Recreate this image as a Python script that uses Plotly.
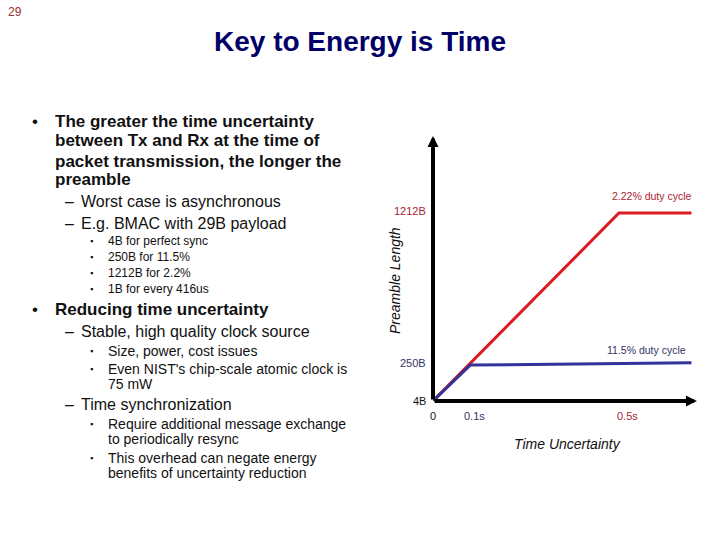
import plotly.graph_objects as go

# ---- data ----
red_time = [0.0, 0.5, 0.695]
red_preamble = [4, 1212, 1212]          # 2.22% duty cycle
blue_time = [0.0, 0.1, 0.695]
blue_preamble = [4, 235, 250]           # 11.5% duty cycle
ytick_vals = [4, 250, 1212]
ytick_text = ["4B", "250B", "1212B"]
ytick_colors = ["#111111", "#333366", "#aa2233"]
xtick_vals = [0, 0.1, 0.5]
xtick_text = ["0", "0.1s", "0.5s"]
xtick_colors = ["#111111", "#333366", "#aa2233"]
xtick_shift = [0, 4, 9]

W, H = 720, 540
FONT = "Liberation Sans"

fig = go.Figure()
fig.add_trace(go.Scatter(x=red_time, y=red_preamble,
                         mode="lines", line=dict(color="#dd1a22", width=3),
                         cliponaxis=False, hoverinfo="skip"))
fig.add_trace(go.Scatter(x=blue_time, y=blue_preamble, mode="lines",
                         line=dict(color="#333399", width=3),
                         cliponaxis=False, hoverinfo="skip"))

ann = []
# axes with arrows
ann.append(dict(x=0.7097, y=4, ax=0, ay=4, xref="x", yref="y", axref="x", ayref="y",
                showarrow=True, arrowhead=2, arrowwidth=4, arrowsize=0.55,
                arrowcolor="#000000", text=""))
ann.append(dict(x=0, y=1707, ax=0, ay=4, xref="x", yref="y", axref="x", ayref="y",
                showarrow=True, arrowhead=2, arrowwidth=4, arrowsize=0.55,
                arrowcolor="#000000", text=""))
for v, t, c in zip(ytick_vals, ytick_text, ytick_colors):
    ann.append(dict(x=0, y=v, xref="x", yref="y", text=t, showarrow=False,
                    xanchor="right", yanchor="middle", xshift=-5,
                    yshift=(2 if v > 1000 else 0),
                    font=dict(family=FONT, size=11, color=c)))
for v, t, c, s in zip(xtick_vals, xtick_text, xtick_colors, xtick_shift):
    ann.append(dict(x=v, y=4, xref="x", yref="y", text=t, showarrow=False,
                    xanchor="center", yanchor="middle", xshift=s, yshift=-15,
                    font=dict(family=FONT, size=11, color=c)))
ann.append(dict(x=0.695, y=1212, xref="x", yref="y", text="2.22% duty cycle",
                showarrow=False, xanchor="right", yanchor="middle", xshift=3, yshift=17,
                font=dict(family=FONT, size=10.5, color="#aa2233")))
ann.append(dict(x=0.695, y=250, xref="x", yref="y", text="11.5% duty cycle",
                showarrow=False, xanchor="right", yanchor="middle", xshift=-3, yshift=13,
                font=dict(family=FONT, size=10.5, color="#333366")))
# axis titles
ann.append(dict(x=395 / W, y=1 - 281 / H, xref="paper", yref="paper",
                xanchor="center", yanchor="middle",
                text="<i>Preamble Length</i>", textangle=-90, showarrow=False,
                font=dict(family=FONT, size=14, color="#111111")))
ann.append(dict(x=567 / W, y=1 - 444 / H, xref="paper", yref="paper",
                xanchor="center", yanchor="middle",
                text="<i>Time Uncertainty</i>", showarrow=False,
                font=dict(family=FONT, size=14, color="#111111")))

# title and slide number
ann.append(dict(x=360 / W, y=1 - 42 / H, xref="paper", yref="paper",
                xanchor="center", yanchor="middle",
                text="<b>Key to Energy is Time</b>", showarrow=False,
                font=dict(family=FONT, size=28, color="#000066")))
ann.append(dict(x=6 / W, y=1 - 12 / H, xref="paper", yref="paper", text="29",
                showarrow=False, xanchor="left", yanchor="middle",
                font=dict(family=FONT, size=12, color="#993333")))

# slide bullet text: (level, bullet?, text, y_px)
lines = [
    (0, True, "The greater the time uncertainty", 121),
    (0, False, "between Tx and Rx at the time of", 141),
    (0, False, "packet transmission, the longer the", 161),
    (0, False, "preamble", 180),
    (1, True, "Worst case is asynchronous", 202),
    (1, True, "E.g. BMAC with 29B payload", 223),
    (2, True, "4B for perfect sync", 241),
    (2, True, "250B for 11.5%", 257),
    (2, True, "1212B for 2.2%", 273),
    (2, True, "1B for every 416us", 289),
    (0, True, "Reducing time uncertainty", 309),
    (1, True, "Stable, high quality clock source", 331),
    (3, True, "Size, power, cost issues", 351),
    (3, True, "Even NIST's chip-scale atomic clock is", 369),
    (3, False, "75 mW", 384),
    (1, True, "Time synchronization", 404),
    (3, True, "Require additional message exchange", 424),
    (3, False, "to periodically resync", 439),
    (3, True, "This overhead can negate energy", 458),
    (3, False, "benefits of uncertainty reduction", 473),
]
style = {
    0: dict(bx=30, tx=53, size=17, bold=True, bullet="•", bsize=17),
    1: dict(bx=63, tx=79, size=16, bold=False, bullet="–", bsize=16),
    2: dict(bx=88, tx=106, size=12, bold=False, bullet="▪", bsize=9),
    3: dict(bx=88, tx=106, size=14, bold=False, bullet="▪", bsize=9),
}
for lvl, has_b, txt, ypx in lines:
    st = style[lvl]
    t = f"<b>{txt}</b>" if st["bold"] else txt
    ann.append(dict(x=st["tx"] / W, y=1 - ypx / H, xref="paper", yref="paper",
                    text=t, showarrow=False, xanchor="left", yanchor="middle",
                    font=dict(family=FONT, size=st["size"], color="#111111")))
    if has_b:
        ann.append(dict(x=st["bx"] / W, y=1 - ypx / H, xref="paper", yref="paper",
                        text=st["bullet"], showarrow=False, xanchor="left",
                        yanchor="middle",
                        font=dict(family=FONT, size=st["bsize"], color="#111111")))

fig.update_layout(
    width=W, height=H, margin=dict(l=0, r=0, t=0, b=0),
    paper_bgcolor="white", plot_bgcolor="white", showlegend=False,
    xaxis=dict(domain=[433 / W, 700 / W], range=[0, 0.718], visible=False),
    yaxis=dict(domain=[(H - 401) / H, (H - 130) / H], range=[4, 1745.6], visible=False),
    annotations=ann,
)
fig.write_html("out.html", config={"displayModeBar": False},
               post_script="document.body.style.margin='0px';document.body.style.overflow='hidden';")
